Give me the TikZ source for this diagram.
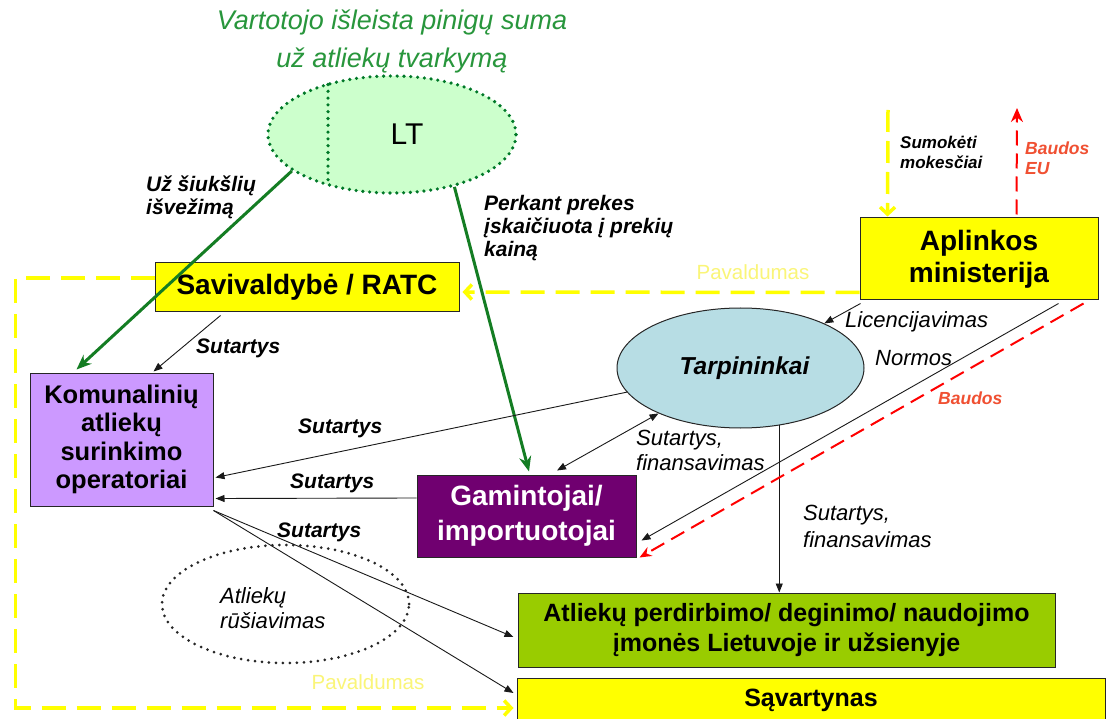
\documentclass[tikz,border=0pt]{standalone}
\usepackage{fontspec}
\setmainfont{Liberation Sans}
\usetikzlibrary{arrows.meta,calc,shapes.geometric}
\definecolor{ltfill}{RGB}{204,255,204}
\definecolor{ltborder}{RGB}{0,120,40}
\definecolor{titlegreen}{RGB}{40,150,60}
\definecolor{arrowgreen}{RGB}{20,125,35}
\definecolor{boxyellow}{RGB}{255,255,0}
\definecolor{lavender}{RGB}{204,153,255}
\definecolor{darkpurple}{RGB}{112,0,112}
\definecolor{limegreen}{RGB}{153,204,0}
\definecolor{tarfill}{RGB}{183,221,228}
\definecolor{dashyellow}{RGB}{255,255,0}
\definecolor{paleyellow}{RGB}{250,245,120}
\definecolor{finered}{RGB}{255,0,0}
\definecolor{labelred}{RGB}{240,80,50}
\begin{document}
\begin{tikzpicture}[x=1pt,y=-1pt,
  box/.style={draw=black!85, line width=1pt, inner sep=0pt, align=center},
  boxfont/.style={font=\fontsize{28}{32}\selectfont\bfseries},
  lbl/.style={inner sep=0pt, align=left, anchor=west, font=\fontsize{21}{23}\selectfont\bfseries\itshape},
  lblr/.style={inner sep=0pt, align=left, anchor=west, font=\fontsize{22}{25}\selectfont\itshape},
  arr/.style={draw=black!90, line width=0.9pt, -{Triangle[length=9pt,width=7pt]}},
  dblarr/.style={draw=black!90, line width=0.9pt, {Triangle[length=9pt,width=7pt]}-{Triangle[length=9pt,width=7pt]}},
  garr/.style={draw=arrowgreen, line width=3pt, -{Stealth[length=15pt,width=12pt]}},
  yarr/.style={draw=dashyellow, line width=3.5pt, dash pattern=on 24pt off 11pt, -{Straight Barb[length=7pt,width=15pt]}},
  rarr/.style={draw=finered, line width=2pt, dash pattern=on 15pt off 8pt, -{Stealth[length=12pt,width=10pt]}},
  dotline/.style={line width=3.6pt, line cap=round, dash pattern=on 0pt off 6.8pt}
]
\useasboundingbox (0,0) rectangle (1106,719);
\fill[white] (0,0) rectangle (1106,719);

% title
\node[align=center, text=titlegreen, inner sep=0pt, font=\fontsize{27}{38}\selectfont\itshape] (title) at (392,41)
  {Vartotojo išleista pinigų suma\\už atliekų tvarkymą};

% LT ellipse
\node[ellipse, draw=ltborder, fill=ltfill, dotline, minimum width=248, minimum height=117, inner sep=0pt] (lt) at (392,134.5) {};
\draw[draw=ltborder, dotline] ($(lt.center)+(-64,-50)$) -- ($(lt.center)+(-64,50)$);
\node[inner sep=0pt, font=\fontsize{30}{32}\selectfont] (lttext) at (407,134) {LT};

% boxes
\node[box, boxfont, fill=boxyellow, minimum width=304, minimum height=49] (sav) at (307,287.5) {Savivaldybė / RATC};
\node[box, boxfont, fill=boxyellow, minimum width=238, minimum height=82] (apl) at (979,259) {Aplinkos\\ministerija};
\node[box, fill=lavender, minimum width=183, minimum height=133, font=\fontsize{25.5}{28.5}\selectfont\bfseries] (kom) at (121.5,439.5) {Komunalinių\\atliekų\\surinkimo\\operatoriai};
\node[ellipse, draw=black!85, line width=1pt, fill=tarfill, minimum width=247, minimum height=120, inner sep=0pt, font=\fontsize{24.5}{26}\selectfont\bfseries\itshape] (tar) at (740.5,368) {\hspace*{8pt}Tarpininkai};
\node[box, fill=darkpurple, text=white, minimum width=219, minimum height=82, font=\fontsize{28}{35}\selectfont\bfseries] (gam) at (526.5,516) {Gamintojai/\\importuotojai};
\node[box, fill=limegreen, minimum width=537, minimum height=74, font=\fontsize{25}{30}\selectfont\bfseries] (rec) at (786.5,630) {Atliekų perdirbimo/ deginimo/ naudojimo\\įmonės Lietuvoje ir užsienyje};
\node[box, fill=boxyellow, minimum width=588, minimum height=52] (sav2) at (811,704) {};
\node[inner sep=0pt, font=\fontsize{25}{28}\selectfont\bfseries] (sav2text) at (811,700) {Sąvartynas};

% sorting ellipse
\node[ellipse, draw=black!85, dotline, line width=3pt, dash pattern=on 0pt off 7pt, minimum width=247, minimum height=118, inner sep=0pt] (rus) at (285.5,604) {};
\node[lblr] (rustext) at (220,608.5) {Atliekų\\rūšiavimas};

% green money flows
\draw[garr] (lt.200) -- ($(kom.north west)+(47,-3)$);
\draw[garr] (lt.320) -- ($(gam.north)+(2.5,-3)$);
\node[lbl] (uzs) at (146,197.5) {Už šiukšlių\\išvežimą};
\node[lbl] (perk) at (484,228) {Perkant prekes\\įskaičiuota į prekių\\kainą};

% yellow subordination
\draw[yarr] ($(apl.south west)+(0,-8)$) -- ($(sav.east)+(3,4.5)$);
\node[inner sep=0pt, text=paleyellow, font=\fontsize{20.5}{22}\selectfont] (pav1) at (753,272) {Pavaldumas};
\draw[yarr] ($(sav.west)+(0,-9.5)$) -- ++(-139,0) |- ($(sav2.west)+(-3,4)$);
\node[inner sep=0pt, text=paleyellow, font=\fontsize{20.5}{22}\selectfont] (pav2) at (368,682) {Pavaldumas};

% taxes and EU fines
\coordinate (taxtop) at (888,110);
\coordinate (eutop) at (1017,108);
\draw[yarr, dash pattern=on 22pt off 9pt] (taxtop) -- ($(apl.north west)+(28,-1)$);
\node[inner sep=0pt, align=left, anchor=west, font=\fontsize{17}{20}\selectfont\bfseries\itshape] (tax) at (900,152) {Sumokėti\\mokesčiai};
\draw[rarr, -{Stealth[length=14pt,width=12pt]}] ($(apl.north west)+(157,-3)$) -- (eutop);
\node[inner sep=0pt, align=left, anchor=west, text=labelred, font=\fontsize{17.5}{20}\selectfont\bfseries\itshape] (eu) at (1025,158) {Baudos\\EU};

% contracts
\draw[arr] ($(sav.south west)+(66,3)$) -- ($(kom.north)+(32,-1)$);
\node[lbl] (s1) at (196,348) {Sutartys};
\draw[arr] (tar.192) -- ($(kom.south east)+(2,-29)$);
\node[lbl] (s2) at (298,428) {Sutartys};
\draw[arr] ($(gam.west)+(0,-18)$) -- ($(kom.south east)+(2,-8)$);
\node[lbl] (s3) at (290,483) {Sutartys};
\draw[arr] ($(kom.south east)+(0,4)$) -- ($(rec.west)+(-4,7)$);
\draw[arr] ($(kom.south east)+(0,4)$) -- ($(sav2.west)+(-3,-11)$);
\node[lbl] (s4) at (277,532) {Sutartys};

\draw[dblarr] (tar.209) -- ($(gam.north)+(30.5,-4)$);
\node[lblr] (sf1) at (636,450) {Sutartys,\\finansavimas};
\draw[arr] (tar.304) -- (tar.304 |- rec.north);
\node[lblr, font=\fontsize{22}{27}\selectfont\itshape] (sf2) at (803,526.5) {Sutartys,\\finansavimas};

% ministry relations
\draw[arr] ($(apl.south west)+(1,3)$) -- (tar.28);
\node[lblr] (lic) at (845,322) {Licencijavimas};
\draw[arr] ($(apl.south east)+(-40,3)$) -- ($(gam.south east)+(5,-17)$);
\node[lblr] (norm) at (875,358) {Normos};
\draw[rarr] ($(apl.south east)+(-15,3)$) -- ($(gam.south east)+(3,0)$);
\node[inner sep=0pt, anchor=west, text=labelred, font=\fontsize{17.5}{20}\selectfont\bfseries\itshape] (baud) at (938,398) {Baudos};
\end{tikzpicture}
\end{document}
